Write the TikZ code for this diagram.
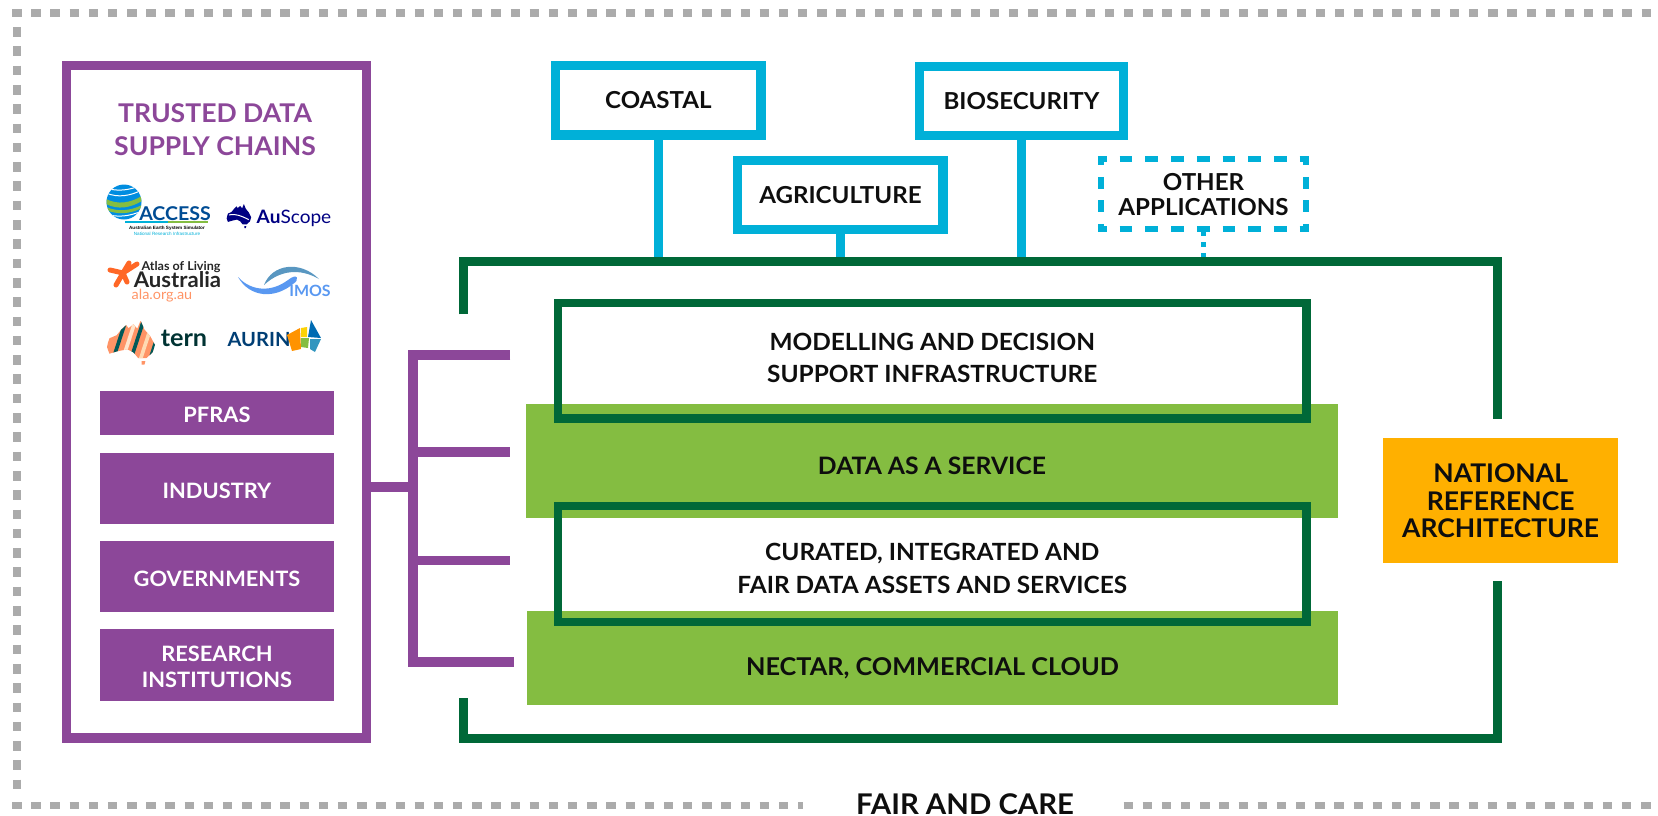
\documentclass[tikz,border=0pt]{standalone}
\usepackage{fontspec}
\setmainfont{Lato}[FakeStretch=1.03]
\newfontfamily\liberation{Liberation Sans}
\usetikzlibrary{calc}
\definecolor{pur}{HTML}{8C4799}
\definecolor{dkgreen}{HTML}{006838}
\definecolor{ltgreen}{HTML}{84BD41}
\definecolor{cyanb}{HTML}{00B0D8}
\definecolor{orangeb}{HTML}{FFB000}
\definecolor{greyd}{HTML}{ABABAB}
\definecolor{inkb}{HTML}{0E0E0E}
\newcommand\fsz[2]{\fontsize{#1}{#2}\selectfont}
\newcommand\ausshape{(0.02,0.5)--(0.05,0.4)--(0.2,0.33)--(0.3,0.2)--(0.4,0.1)--(0.45,0.17)--(0.55,0.08)--(0.63,0.18)--(0.7,0)--(0.78,0.2)--(0.9,0.35)--(1,0.55)--(0.95,0.72)--(0.82,0.85)--(0.65,0.85)--(0.55,0.72)--(0.42,0.65)--(0.2,0.7)--(0.05,0.75)--(0,0.6)--cycle (0.72,0.92)--(0.8,0.92)--(0.78,1)--(0.72,1)--cycle}
\tikzset{
  dots/.style={draw=greyd,line width=7.6pt,dash pattern=on 9.4pt off 9.77pt},
  purline/.style={draw=pur,line width=9.4pt,line join=miter},
  frameline/.style={draw=dkgreen,line width=8.8pt,line join=miter},
  stem/.style={draw=cyanb,line width=9.2pt},
  bluebox/.style={draw=cyanb,line width=9.2pt,inner sep=0pt,align=center,text=inkb,font=\fsz{23.4}{25}\bfseries},
  greenbox/.style={draw=dkgreen,line width=8.2pt,inner sep=0pt,align=center,text=inkb,font=\fsz{23.7}{31.6}\bfseries},
  greenband/.style={fill=ltgreen,inner sep=0pt,align=center,text=inkb,font=\fsz{24}{30}\bfseries},
  purband/.style={fill=pur,inner sep=0pt,align=center,text=white,font=\fsz{21.2}{26}\bfseries,minimum width=233.4pt},
  dashside/.style={draw=cyanb,line width=6pt},
  txt/.style={inner sep=0pt,anchor=base},
}
\begin{document}
\begin{tikzpicture}[x=1pt,y=-1pt]
\useasboundingbox (0,0) rectangle (1658,815);
% outer dotted frame
\coordinate (dTL) at (12.1,13); \coordinate (dTR) at (1651,13);
\coordinate (dLT) at (17,27);   \coordinate (dLB) at (17,791);
\coordinate (dBL) at (12.1,805.5); \coordinate (dBM) at (803,805.5);
\coordinate (dBN) at (1123.5,805.5); \coordinate (dBR) at (1651,805.5);
\draw[dots] (dTL) -- (dTR);
\draw[dots,dash pattern=on 9.6pt off 9.7pt] (dLT) -- (dLB);
\draw[dots] (dBL) -- (dBM);
\draw[dots] (dBN) -- (dBR);
\node[txt,font=\fsz{28.5}{30}\bfseries,text=inkb] (fair) at (965,814.5) {FAIR AND CARE};

% left supply chains box
\node[draw=pur,line width=9.4pt,inner sep=0pt,minimum width=300.4pt,minimum height=672.3pt] (tdsc) at (216.5,401.85) {};
\node[txt,align=center,text=pur,font=\fsz{25.8}{33}\bfseries] (title) at (215,155) {TRUSTED DATA\\SUPPLY CHAINS};
\node[purband,minimum height=44.3pt,text height=19.5pt,text depth=0pt] (pfras) at (217,413.15) {PFRAS};
\node[purband,minimum height=71.3pt,text height=19.5pt,text depth=0pt] (industry) at (217,488.35) {INDUSTRY};
\node[purband,minimum height=71.3pt,text height=19.5pt,text depth=0pt] (gov) at (217,576.65) {GOVERNMENTS};
\node[purband,minimum height=71.7pt,text height=44.5pt,text depth=0pt] (research) at (217,665.15) {RESEARCH\\INSTITUTIONS};

% ACCESS logo
\begin{scope}
  \clip (124,202) circle (17.5);
  \fill[fill=cyanb!80!blue] (106,184) rectangle (142,220);
  \fill[ltgreen] (106,199) .. controls (118,205) and (130,203) .. (142,196) -- (142,201) .. controls (130,208) and (118,210) .. (106,204) -- cycle;
  \fill[ltgreen] (106,207) .. controls (118,212) and (130,211) .. (142,205) -- (142,208) .. controls (130,214) and (118,215) .. (106,210) -- cycle;
  \draw[white,line width=1pt] (106,193) .. controls (118,198) and (130,196) .. (142,190);
  \draw[white,line width=1pt] (106,188) .. controls (118,192) and (130,190) .. (142,185);
  \draw[white,line width=1pt] (106,214) .. controls (118,218) and (130,216) .. (142,211);
\end{scope}
\node[txt,font=\fsz{19}{20}\bfseries,text=black!30!blue!40!teal] (access) at (175,220) {ACCESS};
\fill[cyanb] (125,221) rectangle (168,223);
\fill[ltgreen] (168,221) rectangle (208,223);
\node[txt,font=\liberation\fsz{4.6}{5}\bfseries,text=black] (accessa) at (167,229) {Australian Earth System Simulator};
\node[txt,font=\liberation\fsz{4.6}{5},text=cyanb] (accessb) at (167,235) {National Research Infrastructure};

% AuScope logo
\begin{scope}[shift={(226.7,204)},x=24.5pt,y=-24pt]
  \fill[black!15!blue!60!black] \ausshape;
  \draw[white,line width=1pt] (0.1,0.45) .. controls (0.4,0.4) and (0.6,0.5) .. (0.9,0.65);
\end{scope}
\node[txt,font=\fsz{18.5}{20},text=black!15!blue!60!black] (auscope) at (294,223) {\textbf{Au}Scope};

% Atlas of Living Australia logo
\draw[draw=orange!60!red!85!white,line width=5pt,line cap=round]
  (110,270) -- (123,273) -- (137,264) (123,273) -- (129,263) (123,273) -- (116,285) (123,273) -- (127,282);
\node[txt,font=\fsz{12.2}{13}\bfseries,text=black!85] (atlas) at (181,270.5) {Atlas of Living};
\node[txt,font=\fsz{21.5}{22}\bfseries,text=black!85] (australia) at (177.5,287) {Australia};
\node[txt,font=\fsz{14}{15},text=orange!60!red!60!white] (ala) at (162,299.5) {ala.org.au};

% IMOS logo
\fill[cyanb!55!blue!65!white] (238,277) .. controls (252,292) and (272,292) .. (288,280) .. controls (298,272) and (300,280) .. (293,284) .. controls (275,299) and (250,298) .. (238,277) -- cycle;
\fill[blue!25!teal!65!white] (264,285) .. controls (272,264) and (300,260) .. (319,279) .. controls (300,268) and (280,270) .. (264,285) -- cycle;
\node[txt,font=\fsz{15.5}{16}\bfseries,text=cyanb!55!blue!65!white] (imos) at (310,296) {IMOS};

% TERN logo
\begin{scope}[shift={(107,320.7)},x=48pt,y=-44pt]
  \clip \ausshape;
  \fill[orange!60!red!60!white] (0,0) rectangle (1,1);
  \foreach \q/\c in {0.05/teal!70!black,0.25/orange!20!white,0.42/teal!70!black,0.62/orange!30!white,0.82/teal!70!black,1.02/cyan!40!teal}{
    \fill[\c] (\q,1) -- (\q+0.08,1) -- (\q+0.38,0) -- (\q+0.3,0) -- cycle;}
\end{scope}
\node[txt,font=\fsz{24.5}{25}\bfseries,text=teal!40!black] (tern) at (184,346) {tern};

% AURIN logo
\node[txt,font=\fsz{19.5}{20}\bfseries,text=blue!30!teal!70!black] (aurin) at (259,346) {AURIN};
\fill[orange!85!yellow] (287,335) -- (300,328) -- (301,349) -- (292,351) -- cycle;
\fill[yellow!70!orange] (301,328) -- (307,327) -- (307,337) -- (301,337) -- cycle;
\fill[ltgreen] (301,338) -- (309,338) -- (308,348) -- (301,347) -- cycle;
\fill[blue!40!cyan!70!black] (308,337) -- (311,320) -- (321,338) -- cycle;
\fill[cyan!50!teal] (310,339) -- (321,339) -- (315,352) -- (310,349) -- cycle;

% connector from supply chains to layers
\coordinate (hub) at (413,486.8);
\coordinate (t1) at (413,355);  \coordinate (b1) at (510.3,355);
\coordinate (t2) at (413,452);  \coordinate (b2) at (510.3,452);
\coordinate (t3) at (413,560.7); \coordinate (b3) at (510.3,560.7);
\coordinate (t4) at (413,662);  \coordinate (b4) at (514,662);
\draw[purline] (tdsc.east |- hub) -- (hub);
\draw[purline] (b1) -- (t1) -- (t4) -- (b4);
\draw[purline] (t2) -- (b2);
\draw[purline] (t3) -- (b3);

% top-level frame points
\coordinate (f1) at (463.3,314.3); \coordinate (f2) at (463.3,261.3);
\coordinate (f3) at (1497.5,261.3); \coordinate (f4) at (1497.5,419.3);
\coordinate (f5) at (1497.5,581.3); \coordinate (f6) at (1497.5,738.3);
\coordinate (f7) at (463.3,738.3); \coordinate (f8) at (463.3,698);

% application boxes
\node[bluebox,minimum width=205.2pt,minimum height=69.5pt] (coastal) at (658.4,100.25) {COASTAL};
\node[bluebox,minimum width=205.2pt,minimum height=69.4pt] (agri) at (840.4,195) {AGRICULTURE};
\node[bluebox,minimum width=204.3pt,minimum height=69.4pt] (bio) at (1021.4,101) {BIOSECURITY};
\draw[stem] (coastal.south) -- (coastal.south |- f2);
\draw[stem] (agri.south) -- (agri.south |- f2);
\draw[stem] (bio.south) -- (bio.south |- f2);

\node[inner sep=0pt,minimum width=205pt,minimum height=69.5pt,align=center,text=inkb,font=\fsz{23.4}{25}\bfseries] (other) at (1203.5,194.2) {OTHER\\APPLICATIONS};
\draw[dashside,dash pattern=on 12.7pt off 13pt,dash phase=3.8pt] ([xshift=-3pt]other.north west) -- ([xshift=3pt]other.north east);
\draw[dashside,dash pattern=on 12.7pt off 13pt,dash phase=3.8pt] ([xshift=-3pt]other.south west) -- ([xshift=3pt]other.south east);
\draw[dashside,dash pattern=on 11.7pt off 11.7pt,dash phase=2.7pt] ([yshift=3pt]other.north west) -- ([yshift=-3pt]other.south west);
\draw[dashside,dash pattern=on 11.7pt off 11.7pt,dash phase=2.7pt] ([yshift=3pt]other.north east) -- ([yshift=-3pt]other.south east);
\draw[draw=cyanb,line width=5pt,dash pattern=on 5pt off 6pt,dash phase=9pt] (other.south) -- (other.south |- f2);

% layers
\node[greenband,minimum width=812pt,minimum height=113.4pt,text height=27pt,text depth=0pt] (daas) at (932,461) {DATA AS A SERVICE};
\node[greenband,minimum width=811pt,minimum height=94.6pt,text height=35pt,text depth=0pt,font=\fsz{24.5}{30}\bfseries] (cloud) at (932.5,658) {NECTAR, COMMERCIAL CLOUD};
\node[greenbox,minimum width=748.5pt,minimum height=115.8pt,text depth=5.2pt] (model) at (932.25,360.6) {MODELLING AND DECISION\\SUPPORT INFRASTRUCTURE};
\node[greenbox,minimum width=748.5pt,minimum height=116pt,text height=59.3pt,text depth=0pt,font=\fsz{23.7}{33}\bfseries] (curated) at (932.25,564) {CURATED, INTEGRATED AND\\FAIR DATA ASSETS AND SERVICES};

% national reference architecture
\node[fill=orangeb,inner sep=0pt,minimum width=235.3pt,minimum height=125pt,align=center,text=inkb,font=\fsz{25.7}{27.5}\bfseries] (nra) at (1500.65,500.8) {NATIONAL\\REFERENCE\\ARCHITECTURE};

% green frame
\draw[frameline] (f1) -- (f2) -- (f3) -- (f4);
\draw[frameline] (f5) -- (f6) -- (f7) -- (f8);
\end{tikzpicture}
\end{document}
